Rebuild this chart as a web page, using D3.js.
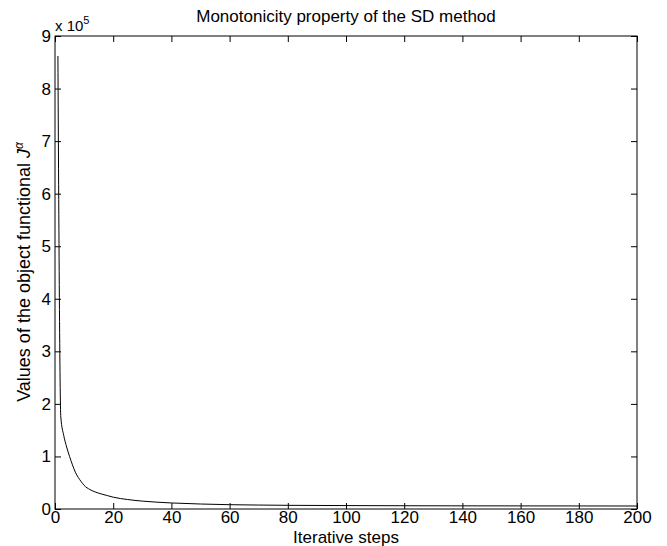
<!DOCTYPE html><html><head><script src="https://cdn.jsdelivr.net/npm/d3@7"></script>
<style>body{margin:0;background:#fff}text{font-family:Arial,"Liberation Sans",sans-serif}</style></head><body>
<svg id="c" width="667" height="546"></svg>
<script>
const steps=[1,2,3,4,5,6,7,8,9,10,12,14,16,18,20,25,30,35,40,50,60,70,80,100,120,140,160,180,200];
const values=[862000,175000,140000,118000,100000,84000,70000,60000,52000,45000,37000,32000,28500,25500,22500,18000,15000,13000,11500,9500,8200,7500,7000,6500,6200,6000,5900,5800,5700];
const xTicks=[0,20,40,60,80,100,120,140,160,180,200];
const yTicks=[0,1,2,3,4,5,6,7,8,9];
const L=55,R=637,T=36,B=509;
const svg=d3.select("#c");
const x=d3.scaleLinear().domain([0,200]).range([L,R]);
const y=d3.scaleLinear().domain([0,9]).range([B,T]);
const fs=17;
svg.append("rect").attr("x",L).attr("y",T).attr("width",R-L).attr("height",B-T).attr("fill","none").attr("stroke","#000");
const ax=svg.append("g").attr("transform",`translate(0,${B})`).call(d3.axisBottom(x).tickValues(xTicks).tickSize(-6).tickPadding(2));
const ax2=svg.append("g").attr("transform",`translate(0,${T})`).call(d3.axisTop(x).tickValues(xTicks).tickSize(-6).tickFormat(""));
const ay=svg.append("g").attr("transform",`translate(${L},0)`).call(d3.axisLeft(y).tickValues(yTicks).tickSize(-6).tickPadding(4));
const ay2=svg.append("g").attr("transform",`translate(${R},0)`).call(d3.axisRight(y).tickValues(yTicks).tickSize(-6).tickFormat(""));
[ax,ax2,ay,ay2].forEach(g=>{g.select(".domain").remove();g.selectAll("text").attr("font-size",fs).attr("fill","#000");g.selectAll("line").attr("stroke","#000");});
svg.append("path").datum(steps.map((s,i)=>[s,values[i]/1e5])).attr("fill","none").attr("stroke","#000").attr("stroke-width",1)
 .attr("d",d3.line().x(d=>x(d[0])).y(d=>y(d[1])).curve(d3.curveMonotoneX));
svg.append("text").attr("x",346).attr("y",22).attr("text-anchor","middle").attr("font-size",fs).text("Monotonicity property of the SD method");
svg.append("text").attr("x",346).attr("y",543).attr("text-anchor","middle").attr("font-size",fs).text("Iterative steps");
const t=svg.append("text").attr("x",55).attr("y",31).attr("font-size",15).text("x 10");
t.append("tspan").attr("dy",-7).attr("font-size",11).text("5");
const yl=svg.append("text").attr("transform","translate(30,272) rotate(-90)").attr("text-anchor","middle").attr("font-size",18).text("Values of the object functional ");
yl.append("tspan").attr("font-style","italic").text("J");
yl.append("tspan").attr("dy",-7).attr("font-size",12).attr("font-style","italic").text("α");
</script></body></html>
